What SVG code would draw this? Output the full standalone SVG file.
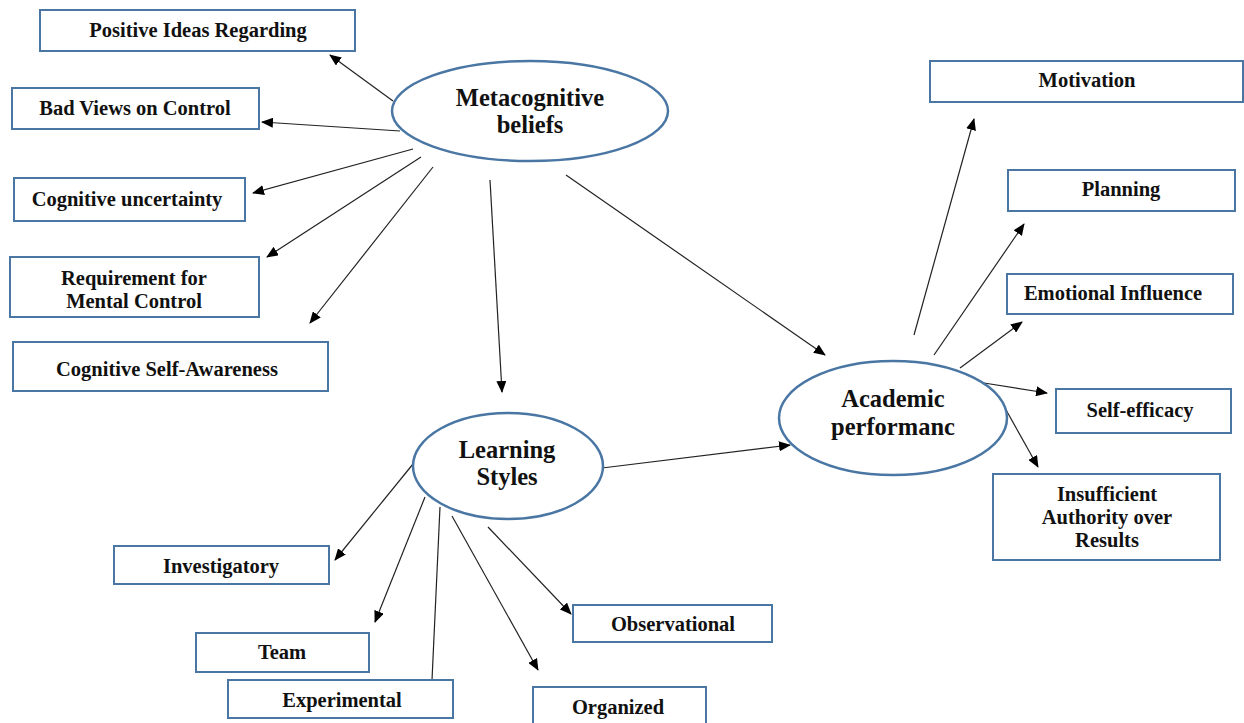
<svg xmlns="http://www.w3.org/2000/svg" width="1244" height="723" viewBox="0 0 1244 723">
<style>
.box{fill:#fff;stroke:#4A76A4;stroke-width:2}
.ell{fill:#fff;stroke:#4A76A4;stroke-width:2.5}
.t{font-family:"Liberation Serif","Times New Roman",serif;font-weight:bold;font-size:20.5px;fill:#111;text-anchor:middle}
.te{font-family:"Liberation Serif","Times New Roman",serif;font-weight:bold;font-size:24.5px;fill:#111;text-anchor:middle}
.c{stroke:#222;stroke-width:1.2;fill:none}
</style>
<defs>
<marker id="ah" viewBox="0 0 12 10" refX="11" refY="5" markerWidth="12" markerHeight="10" markerUnits="userSpaceOnUse" orient="auto">
<path d="M0,0 L12,5 L0,10 Z" fill="#000"/>
</marker>
</defs>
<rect width="1244" height="723" fill="#fff"/>
<g id="connectors">
<line class="c" x1="393" y1="101" x2="330" y2="55" marker-end="url(#ah)"/>
<line class="c" x1="400" y1="131" x2="262" y2="122" marker-end="url(#ah)"/>
<line class="c" x1="413" y1="149" x2="253" y2="193" marker-end="url(#ah)"/>
<line class="c" x1="421" y1="157" x2="267" y2="257" marker-end="url(#ah)"/>
<line class="c" x1="433" y1="167" x2="310" y2="323" marker-end="url(#ah)"/>
<line class="c" x1="490" y1="180" x2="502" y2="392" marker-end="url(#ah)"/>
<line class="c" x1="566" y1="175" x2="825" y2="355" marker-end="url(#ah)"/>
<line class="c" x1="602" y1="468" x2="790" y2="445" marker-end="url(#ah)"/>
<line class="c" x1="413" y1="464" x2="335" y2="560" marker-end="url(#ah)"/>
<line class="c" x1="425" y1="497" x2="375" y2="622" marker-end="url(#ah)"/>
<line class="c" x1="440" y1="507" x2="432" y2="680"/>
<line class="c" x1="452" y1="516" x2="538" y2="670" marker-end="url(#ah)"/>
<line class="c" x1="488" y1="527" x2="571" y2="614" marker-end="url(#ah)"/>
<line class="c" x1="914" y1="335" x2="974" y2="119" marker-end="url(#ah)"/>
<line class="c" x1="934" y1="355" x2="1024" y2="224" marker-end="url(#ah)"/>
<line class="c" x1="960" y1="368" x2="1022" y2="322" marker-end="url(#ah)"/>
<line class="c" x1="984" y1="383" x2="1047" y2="393" marker-end="url(#ah)"/>
<line class="c" x1="1005" y1="408" x2="1038" y2="467" marker-end="url(#ah)"/>
</g>
<g id="meta">
<ellipse class="ell" cx="530" cy="111" rx="138" ry="50"/>
<text class="te" x="530" y="106">Metacognitive</text>
<text class="te" x="530" y="133">beliefs</text>
</g>
<g id="learning">
<ellipse class="ell" cx="508" cy="466" rx="95" ry="53"/>
<text class="te" x="507" y="458">Learning</text>
<text class="te" x="507" y="485">Styles</text>
</g>
<g id="academic">
<ellipse class="ell" cx="893" cy="418" rx="114" ry="57"/>
<text class="te" x="893" y="407">Academic</text>
<text class="te" x="893" y="435">performanc</text>
</g>
<g id="positive">
<rect class="box" x="40" y="10" width="315" height="41"/>
<text class="t" x="198" y="37">Positive Ideas Regarding</text>
</g>
<g id="badviews">
<rect class="box" x="12" y="88" width="247" height="41"/>
<text class="t" x="135" y="115">Bad Views on Control</text>
</g>
<g id="uncertainty">
<rect class="box" x="14" y="178" width="231" height="43"/>
<text class="t" x="127" y="206">Cognitive uncertainty</text>
</g>
<g id="requirement">
<rect class="box" x="10" y="257" width="249" height="60"/>
<text class="t" x="134" y="285">Requirement for</text>
<text class="t" x="134" y="308">Mental Control</text>
</g>
<g id="selfawareness">
<rect class="box" x="13" y="342" width="315" height="49"/>
<text class="t" x="167" y="376">Cognitive Self-Awareness</text>
</g>
<g id="motivation">
<rect class="box" x="930" y="61" width="313" height="41"/>
<text class="t" x="1087" y="87">Motivation</text>
</g>
<g id="planning">
<rect class="box" x="1008" y="170" width="227" height="41"/>
<text class="t" x="1121" y="196">Planning</text>
</g>
<g id="emotional">
<rect class="box" x="1007" y="274" width="226" height="40"/>
<text class="t" x="1113" y="300">Emotional Influence</text>
</g>
<g id="selfefficacy">
<rect class="box" x="1056" y="389" width="175" height="44"/>
<text class="t" x="1140" y="417">Self-efficacy</text>
</g>
<g id="insufficient">
<rect class="box" x="993" y="474" width="227" height="86"/>
<text class="t" x="1107" y="501">Insufficient</text>
<text class="t" x="1107" y="524">Authority over</text>
<text class="t" x="1107" y="547">Results</text>
</g>
<g id="investigatory">
<rect class="box" x="114" y="546" width="215" height="38"/>
<text class="t" x="221" y="573">Investigatory</text>
</g>
<g id="team">
<rect class="box" x="196" y="633" width="173" height="39"/>
<text class="t" x="282" y="659">Team</text>
</g>
<g id="experimental">
<rect class="box" x="228" y="680" width="225" height="38"/>
<text class="t" x="342" y="707">Experimental</text>
</g>
<g id="observational">
<rect class="box" x="573" y="605" width="199" height="37"/>
<text class="t" x="673" y="631">Observational</text>
</g>
<g id="organized">
<rect class="box" x="533" y="687" width="173" height="40"/>
<text class="t" x="618" y="714">Organized</text>
</g>
</svg>
